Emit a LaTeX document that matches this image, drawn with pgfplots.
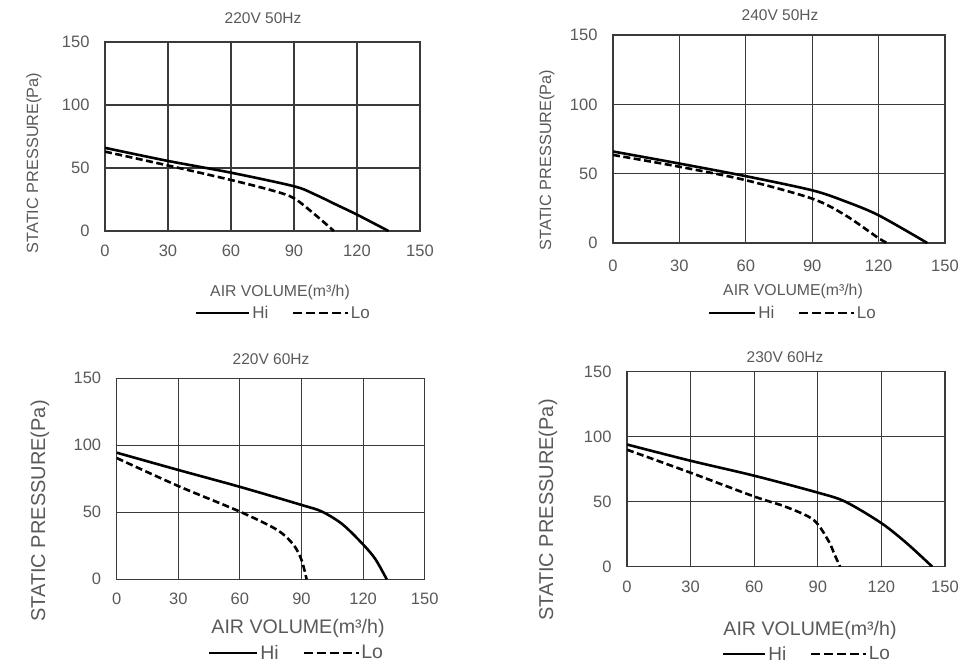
\documentclass[border=0pt]{standalone}
\usepackage{pgfplots}
\pgfplotsset{compat=1.18}
\usepackage{fontspec}
\setmainfont{Liberation Sans}
\definecolor{txt}{HTML}{595959}
\definecolor{grd}{HTML}{3A3A3A}
\pgfplotsset{
  fan/.style={
    scale only axis,
    xmin=0,xmax=150,ymin=0,ymax=150,
    xtick={0,30,60,90,120,150}, ytick={0,50,100,150},
    grid=major,
    grid style={line width=1.1pt,color=grd},
    axis line style={line width=1.1pt,color=grd},
    major tick length=0pt,
    tick label style={color=txt,font=\fontsize{16.5}{18}\selectfont},
    xticklabel style={yshift=-10.5pt},
    yticklabel style={xshift=-12pt},
    /pgf/number format/assume math mode=true,
    legend columns=2,
    legend style={draw=none,fill=none,text=txt,inner sep=0pt,
      nodes={inner sep=1.5pt},
      /tikz/every even column/.append style={column sep=22pt}},
    legend cell align=left,
  },
  hi/.style={line width=2.6pt,black,smooth,tension=0.5},
  lo/.style={line width=2.6pt,black,dash pattern=on 7pt off 3.5pt,smooth,tension=0.5},
}
\begin{document}
\begin{tikzpicture}
\path[use as bounding box] (0pt,0pt) rectangle (972pt,-665pt);
% Panel 1
\begin{axis}[fan, at={(105pt,-231pt)}, anchor=south west, width=315pt, height=189pt,
  legend style={at={(0.2857,-0.434)},anchor=west,font=\fontsize{17}{19}\selectfont}]
\addplot[hi,legend image code/.code={\draw[line width=2.6pt,black] (0pt,0pt) -- (53pt,0pt);}]
  coordinates {(0,66)(30,55.6)(60,46.3)(90,35.5)(100,29)(110,21)(120,13)(135,0)};
\addlegendentry{Hi}
\addplot[lo,legend image code/.code={\draw[line width=2.6pt,black,dash pattern=on 9pt off 4pt] (0pt,0pt) -- (55pt,0pt);}]
  coordinates {(0,63)(30,52)(60,40.5)(80,32)(90,26)(100,13)(109,0)};
\addlegendentry{Lo}
\end{axis}
% Panel 2
\begin{axis}[fan, at={(613pt,-243pt)}, anchor=south west, width=332pt, height=208pt,
  xticklabel style={yshift=-3pt},
  legend style={at={(0.286,-0.3365)},anchor=west,font=\fontsize{17}{19}\selectfont}]
\addplot[hi,legend image code/.code={\draw[line width=2.6pt,black] (0pt,0pt) -- (46pt,0pt);}]
  coordinates {(0,66)(30,57.3)(60,48.2)(90,38)(105,30)(120,20)(142,0)};
\addlegendentry{Hi}
\addplot[lo,legend image code/.code={\draw[line width=2.6pt,black,dash pattern=on 9pt off 4pt] (0pt,0pt) -- (55pt,0pt);}]
  coordinates {(0,63.5)(30,55)(60,45.3)(90,32)(105,20)(120,3.5)(124,0)};
\addlegendentry{Lo}
\end{axis}
% Panel 3
\begin{axis}[fan, at={(116.7pt,-579.3pt)}, anchor=south west, width=308pt, height=201pt,
  legend style={at={(0.2964,-0.3667)},anchor=west,font=\fontsize{19.5}{21}\selectfont}]
\addplot[hi,legend image code/.code={\draw[line width=2.6pt,black] (0pt,0pt) -- (48pt,0pt);}]
  coordinates {(0,94.5)(30,81.6)(60,69)(90,55.5)(100,50.5)(110,41)(120,26)(126,15)(131.5,0)};
\addlegendentry{Hi}
\addplot[lo,legend image code/.code={\draw[line width=2.6pt,black,dash pattern=on 9pt off 4pt] (0pt,0pt) -- (55pt,0pt);}]
  coordinates {(0,90.5)(30,69.6)(60,50.5)(78,37)(86,26)(90,14.5)(92.5,0)};
\addlegendentry{Lo}
\end{axis}
% Panel 4
\begin{axis}[fan, at={(627pt,-566.7pt)}, anchor=south west, width=318pt, height=195pt,
  legend style={at={(0.2987,-0.448)},anchor=west,font=\fontsize{19}{21}\selectfont}]
\addplot[hi,legend image code/.code={\draw[line width=2.6pt,black] (0pt,0pt) -- (42pt,0pt);}]
  coordinates {(0,94)(30,81.5)(60,70)(90,57)(103,50)(120,33.5)(132,18)(144,0)};
\addlegendentry{Hi}
\addplot[lo,legend image code/.code={\draw[line width=2.6pt,black,dash pattern=on 9pt off 4pt] (0pt,0pt) -- (55pt,0pt);}]
  coordinates {(0,90)(30,72.3)(60,54)(75,46)(88,36)(95,20)(98,9)(100.5,0)};
\addlegendentry{Lo}
\end{axis}
% Titles and labels
\node[txt,font=\fontsize{15.5}{17}\selectfont] at (263pt,-18pt) {220V 50Hz};
\node[txt,font=\fontsize{15.5}{17}\selectfont] at (780pt,-15pt) {240V 50Hz};
\node[txt,font=\fontsize{15.5}{17}\selectfont] at (271pt,-359pt) {220V 60Hz};
\node[txt,font=\fontsize{15.5}{17}\selectfont] at (785pt,-357pt) {230V 60Hz};
\node[txt,font=\fontsize{16.3}{18}\selectfont,rotate=90] at (34pt,-163pt) {STATIC PRESSURE(Pa)};
\node[txt,font=\fontsize{16.3}{18}\selectfont,rotate=90] at (547pt,-160pt) {STATIC PRESSURE(Pa)};
\node[txt,font=\fontsize{20}{22}\selectfont,rotate=90] at (40pt,-511pt) {STATIC PRESSURE(Pa)};
\node[txt,font=\fontsize{20}{22}\selectfont,rotate=90] at (548pt,-510pt) {STATIC PRESSURE(Pa)};
\node[txt,font=\fontsize{15.8}{17}\selectfont] at (280pt,-292pt) {AIR VOLUME(m³/h)};
\node[txt,font=\fontsize{15.8}{17}\selectfont] at (793pt,-291pt) {AIR VOLUME(m³/h)};
\node[txt,font=\fontsize{19.6}{21}\selectfont] at (298pt,-628pt) {AIR VOLUME(m³/h)};
\node[txt,font=\fontsize{19.6}{21}\selectfont] at (810pt,-630pt) {AIR VOLUME(m³/h)};
\end{tikzpicture}
\end{document}
